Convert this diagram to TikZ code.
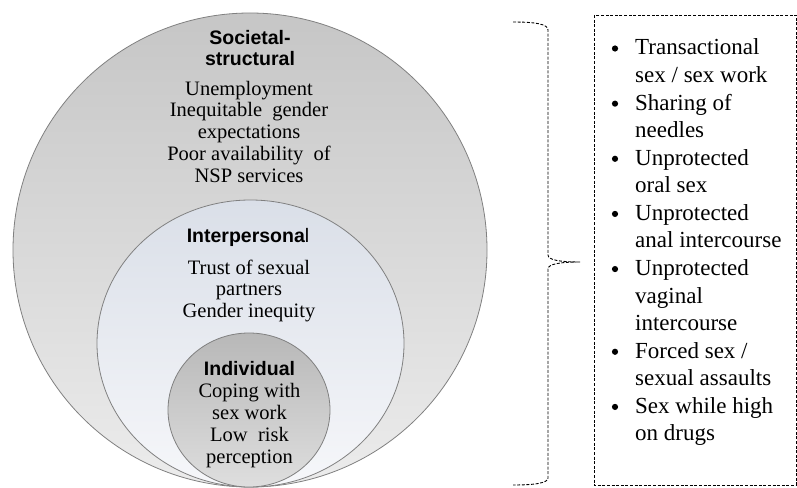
\documentclass[tikz,border=0pt]{standalone}
\usepackage{fontspec}
\setmainfont{Liberation Serif}
\setsansfont{Liberation Sans}
\definecolor{ringline}{RGB}{128,128,128}
\definecolor{outerTop}{RGB}{198,198,198}
\definecolor{outerBot}{RGB}{236,236,236}
\definecolor{midTop}{RGB}{218,223,232}
\definecolor{midBot}{RGB}{246,247,250}
\definecolor{innTop}{RGB}{184,184,184}
\definecolor{innBot}{RGB}{222,222,222}
\begin{document}
\begin{tikzpicture}[x=1pt,y=-1pt,
  ring/.style={draw=ringline, line width=0.8pt},
  head/.style={font=\sffamily\bfseries\fontsize{19.5}{20}\selectfont, inner sep=0pt, anchor=base},
  body/.style={font=\fontsize{20.5}{22}\selectfont, inner sep=0pt, anchor=base},
  item/.style={font=\fontsize{23}{27}\selectfont, inner sep=0pt, anchor=base west},
  bul/.style={circle, fill=black, inner sep=0pt, minimum size=6.2pt},
  dashline/.style={draw=black, line width=0.9pt, dash pattern=on 3pt off 1.6pt}]
\useasboundingbox (0,0) rectangle (797,487);

% rings
\path[ring, top color=outerTop, bottom color=outerBot] (250,250) ellipse [x radius=237pt, y radius=237pt];
\path[ring, top color=midTop, bottom color=midBot] (250.5,343.5) ellipse [x radius=153.5pt, y radius=143.5pt];
\path[ring, top color=innTop, bottom color=innBot] (249,410) ellipse [x radius=81pt, y radius=77pt];

% Societal-structural
\node[head] (s1) at (250,45) {Societal-};
\node[head] (s2) at (250,65) {structural};
\node[body] (s3) at (249,95) {Unemployment};
\node[body] (s4) at (249,116.8) {Inequitable\ \ gender};
\node[body] (s5) at (249,138.6) {expectations};
\node[body] (s6) at (249,160.4) {Poor availability\ \ of};
\node[body] (s7) at (249,182.4) {NSP services};

% Interpersonal
\node[head] (p1) at (248,242.7) {Interpersona\mdseries l};
\node[body] (p2) at (249,274) {Trust of sexual};
\node[body] (p3) at (249,295.8) {partners};
\node[body] (p4) at (249,317.4) {Gender inequity};

% Individual
\node[head] (i1) at (249.5,375) {Individual};
\node[body] (i2) at (249.5,397.5) {Coping with};
\node[body] (i3) at (249.5,419.5) {sex work};
\node[body] (i4) at (249.5,441.5) {Low\ \ risk};
\node[body] (i5) at (249.5,463.5) {perception};

% brace
\draw[dashline] (513,22) .. controls (535,22) and (548,24) .. (548,30) -- (548,255)
  .. controls (548,260) and (560,262) .. (580,262)
  .. controls (560,262) and (548,264) .. (548,269) -- (548,478)
  .. controls (548,483) and (535,485) .. (513,485);

% list box
\draw[dashline] (594,15) rectangle (796,485);

\node[bul] (b1) at (615,48.5) {};
\node[item] (t1) at (635,55) {Transactional};
\node[item] (t2) at (635,82.57) {sex / sex work};
\node[bul] (b2) at (615,103.64) {};
\node[item] (t3) at (635,110.14) {Sharing of};
\node[item] (t4) at (635,137.71) {needles};
\node[bul] (b3) at (615,158.78) {};
\node[item] (t5) at (635,165.28) {Unprotected};
\node[item] (t6) at (635,192.85) {oral sex};
\node[bul] (b4) at (615,213.92) {};
\node[item] (t7) at (635,220.42) {Unprotected};
\node[item] (t8) at (635,247.99) {anal intercourse};
\node[bul] (b5) at (615,269.06) {};
\node[item] (t9) at (635,275.56) {Unprotected};
\node[item] (t10) at (635,303.13) {vaginal};
\node[item] (t11) at (635,330.7) {intercourse};
\node[bul] (b6) at (615,351.77) {};
\node[item] (t12) at (635,358.27) {Forced sex /};
\node[item] (t13) at (635,385.84) {sexual assaults};
\node[bul] (b7) at (615,406.91) {};
\node[item] (t14) at (635,413.41) {Sex while high};
\node[item] (t15) at (635,440.98) {on drugs};
\end{tikzpicture}
\end{document}
